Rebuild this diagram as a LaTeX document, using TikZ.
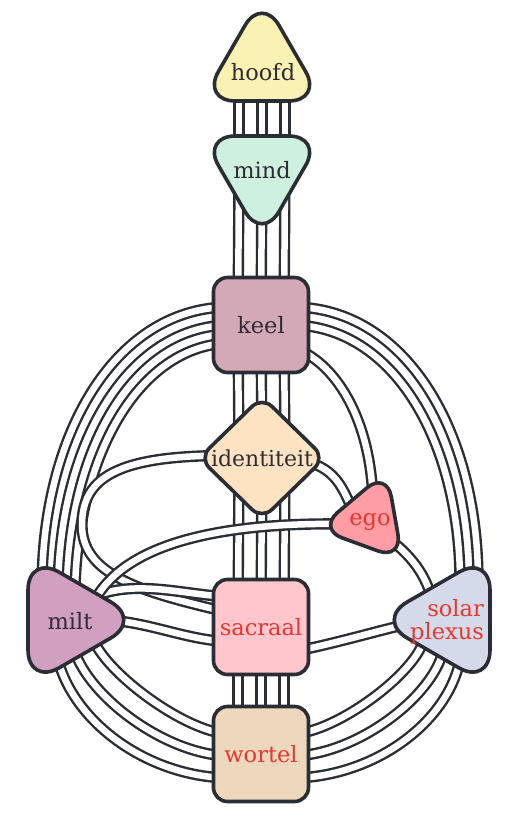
\documentclass[tikz,border=0pt]{standalone}
\usepackage{fontspec}
\setmainfont{DejaVu Serif}
\usetikzlibrary{shapes.geometric}

\pgfdeclarelayer{background}
\pgfsetlayers{background,main}

\definecolor{ink}{HTML}{2A2D33}
\definecolor{darktext}{HTML}{2F2C35}
\definecolor{redtext}{HTML}{E8372E}
\definecolor{hoofdfill}{HTML}{F9F2B3}
\definecolor{mindfill}{HTML}{CEF0DE}
\definecolor{keelfill}{HTML}{D3A9B7}
\definecolor{identiteitfill}{HTML}{FDE3C2}
\definecolor{egofill}{HTML}{FF9DA4}
\definecolor{miltfill}{HTML}{D19FC0}
\definecolor{sacraalfill}{HTML}{FFC6CD}
\definecolor{solarfill}{HTML}{D5DAEA}
\definecolor{wortelfill}{HTML}{EDD7BD}

\def\squares{{(261,325)/keel/keelfill/darktext}, {(261,627)/sacraal/sacraalfill/redtext}, {(261,754)/wortel/wortelfill/redtext}}
\def\triangles{{(262,66)/hoofd/0/140pt/34pt/hoofdfill}, {(262,171)/mind/180/140pt/34pt/mindfill}, {(369,520)/ego/100/104pt/26pt/egofill}, {(66,620)/milt/-90/152pt/36pt/miltfill}, {(452,620)/solar/90/152pt/36pt/solarfill}}
\def\labels{{(263,72)/hoofd/darktext}, {(262,170)/mind/darktext}, {(370,522)/ego/redtext}, {(70,621)/milt/darktext}}

\tikzstyle{centre} = [draw=ink, line width=3.6pt, inner sep=0pt]
\tikzstyle{box} = [centre, rectangle, rounded corners=14pt, minimum size=95pt, font=\fontsize{22.5}{20}\selectfont]
\tikzstyle{tri} = [centre, regular polygon, regular polygon sides=3]
\tikzstyle{centre-text} = [inner sep=0pt, font=\fontsize{22.5}{23}\selectfont]
\tikzstyle{channel} = [draw=ink, line width=2.4pt, double=white, double distance=6.5pt]

\begin{document}
\begin{tikzpicture}[x=1pt, y=-1pt]

  \useasboundingbox (0,0) rectangle (528,834);

  % The centres
  \foreach \pos/\name/\turn/\size/\round/\col in \triangles
    \node[tri, fill=\col, shape border rotate=\turn, minimum size=\size, rounded corners=\round] (\name) at \pos {};

  \foreach \pos/\name/\col/\txt in \squares
    \node[box, fill=\col, text=\txt] (\name) at \pos {\name};

  \node[centre, diamond, fill=identiteitfill, rounded corners=14pt, minimum width=127pt, minimum height=124pt, font=\fontsize{22}{20}\selectfont, text=darktext] (identiteit) at (262,458) {identiteit};

  % their names
  \foreach \pos/\name/\txt in \labels
    \node[centre-text, text=\txt] (\name-label) at \pos {\name};
  \node[centre-text, text=redtext, align=right] (solar-label) at (447,622) {solar\\plexus};

  \begin{pgfonlayer}{background}
  % The straight bundles down the middle
  \foreach \from/\to in {hoofd/mind, mind/keel, keel/identiteit, identiteit/sacraal, sacraal/wortel}
    \foreach \dx in {-23,0,23}
      \path[channel] ([xshift=\dx pt]\from.center) -- ([xshift=\dx pt]\to.center);

  % keel to milt
  \path[channel] ([shift={(-30,-18)}]keel.center) .. controls (118,306) and (42,430) .. ([shift={(-24,-32)}]milt.center);
  \path[channel] ([shift={(-30,0)}]keel.center) .. controls (130,325) and (60,440) .. ([shift={(-8,-32)}]milt.center);
  \path[channel] ([shift={(-30,18)}]keel.center) .. controls (142,344) and (78,450) .. ([shift={(9,-30)}]milt.center);

  % keel to solar plexus and ego
  \path[channel] ([shift={(30,-18)}]keel.center) .. controls (404,306) and (480,430) .. ([shift={(26,-32)}]solar.center);
  \path[channel] ([shift={(30,0)}]keel.center) .. controls (392,325) and (462,440) .. ([shift={(8,-30)}]solar.center);
  \path[channel] ([shift={(30,22)}]keel.center) .. controls (335,360) and (372,420) .. ([shift={(4,-15)}]ego.center);

  % identiteit round to sacraal, and to ego
  \path[channel] ([shift={(0,-2)}]identiteit.center) .. controls (130,452) and (82,470) .. (82,525) .. controls (82,575) and (140,592) .. ([shift={(-30,-14)}]sacraal.center);
  \path[channel] ([shift={(30,2)}]identiteit.center) .. controls (330,462) and (342,482) .. ([shift={(-15,-5)}]ego.center);

  % milt and solar plexus to sacraal
  \path[channel] ([shift={(32,-25)}]milt.center) .. controls (140,580) and (185,595) .. ([shift={(-30,-30)}]sacraal.center);
  \path[channel] ([shift={(40,0)}]milt.center) .. controls (150,622) and (185,640) .. ([shift={(-30,15)}]sacraal.center);
  \path[channel] ([shift={(-40,3)}]solar.center) .. controls (380,630) and (330,645) .. ([shift={(30,25)}]sacraal.center);

  % ego to solar plexus and milt
  \path[channel] ([shift={(15,15)}]ego.center) .. controls (405,550) and (425,570) .. ([shift={(-20,-20)}]solar.center);
  \path[channel] ([shift={(-20,4)}]ego.center) .. controls (230,522) and (130,540) .. ([shift={(30,-22)}]milt.center);

  % wortel to milt and solar plexus
  \foreach \dy/\mx/\my/\ex in {24/-8/40/0, 2/10/35/20, -20/30/25/40} {
    \path[channel] ([shift={(-30,\dy)}]wortel.center) .. controls (150+\ex,754+\dy) and (75+\ex,700+\dy) .. ([shift={(\mx,\my)}]milt.center);
    \path[channel] ([shift={(30,\dy)}]wortel.center) .. controls (372-\ex,754+\dy) and (447-\ex,700+\dy) .. ([shift={(-\mx,\my)}]solar.center);
  }
  \end{pgfonlayer}

\end{tikzpicture}
\end{document}
